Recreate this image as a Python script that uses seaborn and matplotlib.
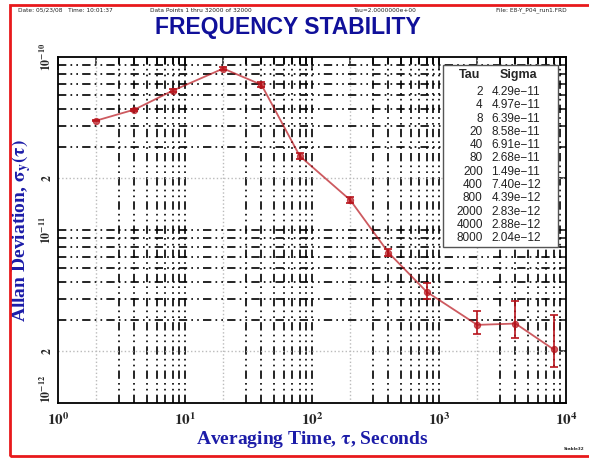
import numpy as np
import pandas as pd
import matplotlib
matplotlib.use("Agg")
import matplotlib.pyplot as plt
import matplotlib.ticker as mticker
from matplotlib.patches import Rectangle
import seaborn as sns

# Allan deviation results
tau = [2, 4, 8, 20, 40, 80, 200, 400, 800, 2000, 4000, 8000]
sigma = [4.29e-11, 4.97e-11, 6.39e-11, 8.58e-11, 6.91e-11, 2.68e-11,
         1.49e-11, 7.40e-12, 4.39e-12, 2.83e-12, 2.88e-12, 2.04e-12]
# error bar bounds
sigma_lo = [4.24e-11, 4.90e-11, 6.28e-11, 8.40e-11, 6.70e-11, 2.58e-11,
            1.43e-11, 7.05e-12, 3.99e-12, 2.51e-12, 2.38e-12, 1.62e-12]
sigma_hi = [4.34e-11, 5.04e-11, 6.50e-11, 8.77e-11, 7.13e-11, 2.79e-11,
            1.56e-11, 7.80e-12, 4.94e-12, 3.40e-12, 3.89e-12, 3.23e-12]
tau_labels = ["2", "4", "8", "20", "40", "80", "200", "400", "800", "2000", "4000", "8000"]
sigma_labels = ["4.29e-11", "4.97e-11", "6.39e-11", "8.58e-11", "6.91e-11", "2.68e-11",
                "1.49e-11", "7.40e-12", "4.39e-12", "2.83e-12", "2.88e-12", "2.04e-12"]

header = ["Date: 05/23/08   Time: 10:01:37", "Data Points 1 thru 32000 of 32000",
          "Tau=2.0000000e+00", "File: E8-Y_P04_run1.FRD"]

XLIM = (1, 1e4)
YLIM = (1e-12, 1e-10)

df = pd.DataFrame({"tau": tau, "sigma": sigma})

sns.set_style("white")
plt.rcParams["mathtext.fontset"] = "stix"
fig = plt.figure(figsize=(5.89, 4.58), dpi=100)
ax = fig.add_axes([0.0985, 0.120, 0.8625, 0.7555])
ax.set_xscale("log")
ax.set_yscale("log")

# grid: dash-dot-dot black, light dotted at the "2" lines
ddd = (0, (5, 2.5, 1, 2.5, 1, 2.5))
for dec in [1, 10, 100, 1000]:
    for m in range(1, 10):
        v = dec * m
        if v == 1:
            continue
        if m == 2:
            ax.axvline(v, color="#bbbbbb", lw=1.0, ls=":", zorder=1)
        else:
            ax.axvline(v, color="black", lw=1.2, ls=ddd, zorder=1)
for dec in [1e-12, 1e-11]:
    for m in range(1, 10):
        v = dec * m
        if v == 1e-12:
            continue
        if m == 2:
            ax.axhline(v, color="#bbbbbb", lw=1.0, ls=":", zorder=1)
        else:
            ax.axhline(v, color="black", lw=1.2, ls=ddd, zorder=1)

lo = np.array(sigma) - np.array(sigma_lo)
hi = np.array(sigma_hi) - np.array(sigma)
ax.errorbar(tau, sigma, yerr=[lo, hi], fmt="none", ecolor="#b8141c", elinewidth=1.2,
            capsize=3, capthick=1.2, zorder=3)
sns.lineplot(data=df, x="tau", y="sigma", ax=ax, color="#b8141c", alpha=0.7, lw=1.3,
             marker="o", markersize=4.5, markeredgecolor="#b8141c",
             markerfacecolor="#b8141c", zorder=4)
ax.set_xlim(*XLIM)
ax.set_ylim(*YLIM)


def make_dec_fmt(lim):
    def fmt(v, p):
        if v < lim[0] * 0.999 or v > lim[1] * 1.001:
            return ""
        k = int(round(np.log10(v)))
        return r"$\mathbf{10^{%d}}$" % k
    return fmt


def minor_fmt(v, p):
    if v < YLIM[0] or v > YLIM[1]:
        return ""
    m = v / 10 ** np.floor(np.log10(v) + 1e-9)
    return r"$\mathbf{2}$" if abs(m - 2) < 1e-6 else ""


# ticks and labels
ax.tick_params(which="both", direction="in", top=True, right=True, width=1.2)
ax.tick_params(which="major", length=9)
ax.tick_params(which="minor", length=5)
ax.xaxis.set_major_locator(mticker.LogLocator(base=10, numticks=10))
ax.xaxis.set_major_formatter(mticker.FuncFormatter(make_dec_fmt(XLIM)))
ax.xaxis.set_minor_locator(mticker.LogLocator(base=10, subs=np.arange(2, 10), numticks=10))
ax.xaxis.set_minor_formatter(mticker.NullFormatter())
ax.yaxis.set_major_formatter(mticker.FuncFormatter(make_dec_fmt(YLIM)))
ax.yaxis.set_minor_locator(mticker.LogLocator(base=10, subs=np.arange(2, 10), numticks=10))
ax.yaxis.set_minor_formatter(mticker.FuncFormatter(minor_fmt))
ax.tick_params(axis="x", labelsize=11, pad=6)
ax.tick_params(axis="y", which="both", labelsize=8.5, labelrotation=90, pad=3)
for s in ax.spines.values():
    s.set_linewidth(1.3)
    s.set_color("black")

ax.set_xlabel(r"Averaging Time, $\mathbf{\tau}$, Seconds", fontsize=14, fontweight="bold",
              color="#1c1ca8", family="Liberation Serif", labelpad=1)
ax.set_ylabel(r"Allan Deviation, $\mathbf{\sigma_y(\tau)}$", fontsize=14, fontweight="bold",
              color="#1c1ca8", family="Liberation Serif", labelpad=4)

# rotated y labels centred on their ticks, the bottom one raised above the corner
fig.canvas.draw()
for tick in ax.yaxis.get_major_ticks() + ax.yaxis.get_minor_ticks():
    tick.label1.set_va("center")
    if abs(tick.get_loc() - YLIM[0]) < 1e-15:
        tick.label1.set_va("bottom")

# sigma table
ax.add_patch(Rectangle((0.758, 0.451), 0.226, 0.526, transform=ax.transAxes,
                       facecolor="white", edgecolor="#555555", lw=1.0, zorder=5))
ax.text(0.832, 0.948, "Tau", transform=ax.transAxes, ha="right", va="center",
        fontsize=9, fontweight="bold", family="Liberation Sans", zorder=6)
ax.text(0.87, 0.948, "Sigma", transform=ax.transAxes, ha="left", va="center",
        fontsize=9, fontweight="bold", family="Liberation Sans", zorder=6)
for i, (t, s) in enumerate(zip(tau_labels, sigma_labels)):
    yy = 0.899 - i * 0.0384
    ax.text(0.836, yy, t, transform=ax.transAxes, ha="right", va="center",
            fontsize=8.5, color="#222222", family="Liberation Sans", zorder=6)
    ax.text(0.853, yy, s.replace("-", "\u2212"), transform=ax.transAxes, ha="left",
            va="center", fontsize=8.5, color="#222222", family="Liberation Sans", zorder=6)

# header
fig.text(0.488, 0.94, "FREQUENCY STABILITY", ha="center", va="center", fontsize=16.5,
         fontweight="bold", color="#10109a", family="Liberation Sans")
hx = [0.03, 0.255, 0.6, 0.842]
for x, h in zip(hx, header):
    fig.text(x, 0.978, h, ha="left", va="center", fontsize=4.2, color="#222222")
fig.text(0.975, 0.02, "Stable32", ha="center", va="center", fontsize=3, fontweight="bold")

fig.add_artist(Rectangle((0.017, 0.004), 1.0, 0.985, transform=fig.transFigure,
                         fill=False, edgecolor="#e8191c", lw=2.0, clip_on=False))

fig.savefig("out.png", dpi=100)
